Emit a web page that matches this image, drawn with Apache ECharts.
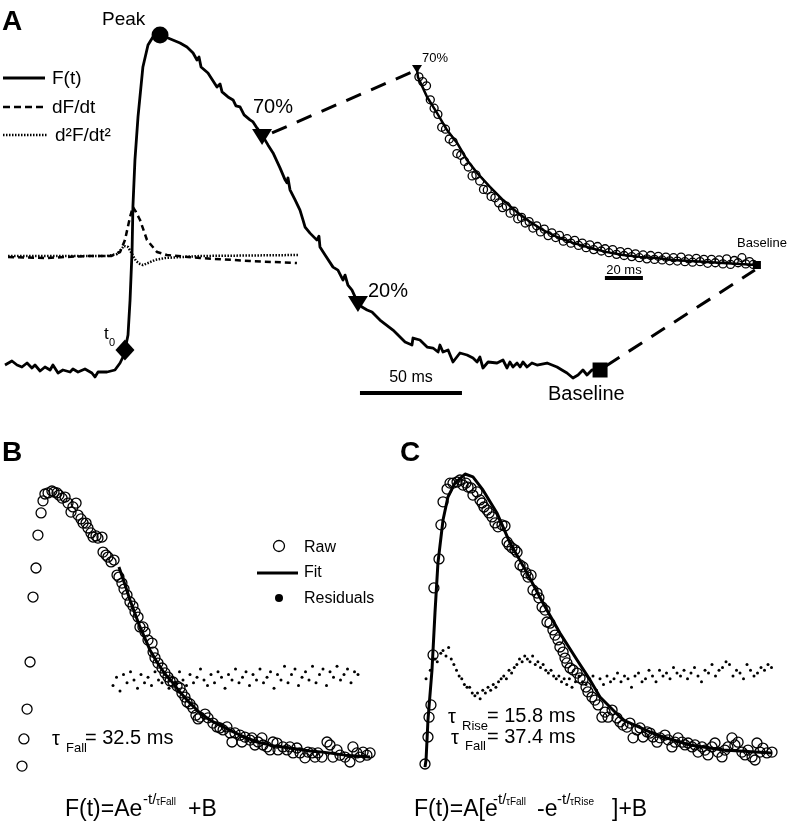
<!DOCTYPE html>
<html><head><meta charset="utf-8">
<script src="https://cdn.jsdelivr.net/npm/echarts@6/dist/echarts.min.js"></script>
<style>html,body{margin:0;padding:0;background:#fff}#c{width:794px;height:825px}</style>
</head><body><div id="c"></div>
<script>
// ---------- Panel A: main trace (time in ms, F normalised to peak) ----------
const mainT = [0,3.4,5.9,8.3,10.8,13.2,14.7,17.2,19.6,22.1,23.5,26.0,28.4,31.9,33.3,35.8,39.2,42.6,44.1,45.6,50.0,53.9,56.4,58.3,58.8,60.3,61.3,62.3,62.7,63.7,65.2,67.6,70.1,72.5,76.0,79.9,85.8,89.2,92.2,94.1,95.1,96.1,99.5,103.9,105.4,106.4,109.3,111.8,113.2,115.2,117.2,120.1,121.6,123.5,126.0,128.9,131.4,134.8,137.3,138.2,138.7,139.7,142.2,144.6,146.1,147.1,149.5,152.9,153.9,154.4,156.9,160.8,163.2,165.7,166.7,168.1,170.1,173.0,175.0,177.5,179.9,183.8,190.2,196.1,199.5,200.0,203.4,206.9,209.8,212.3,213.2,214.7,217.2,219.6,223.0,226.5,229.4,231.4,232.8,234.3,236.8,241.2,244.1,246.1,247.5,249.0,251.0,252.5,253.9,255.9,258.3,260.8,265.7,270.6,273.0,275.5,278.4,280.9,283.3,285.3,287.7,290.7];
const mainF = [0.009,0.021,0.009,0.003,0.015,0,0.009,-0.009,0.003,-0.006,0.009,-0.015,-0.006,-0.012,-0.003,-0.012,-0.003,-0.015,-0.027,-0.012,-0.012,-0.006,0.015,0.039,0.054,0.099,0.204,0.354,0.483,0.625,0.754,0.904,0.970,0.994,1.0,0.991,0.976,0.964,0.946,0.925,0.934,0.904,0.886,0.844,0.853,0.829,0.814,0.805,0.787,0.784,0.760,0.745,0.739,0.721,0.700,0.670,0.646,0.601,0.565,0.556,0.571,0.535,0.505,0.474,0.444,0.423,0.405,0.384,0.396,0.363,0.339,0.303,0.294,0.264,0.279,0.249,0.234,0.195,0.183,0.174,0.168,0.144,0.114,0.078,0.069,0.090,0.084,0.063,0.060,0.048,0.069,0.048,0.054,0.018,0.045,0.039,0.030,0.018,0.033,0,0.018,0.015,0.024,0,0.018,0.003,0.015,0.003,0.018,0.003,0.015,0.009,0.015,0.003,-0.006,-0.015,-0.030,-0.021,-0.006,-0.021,-0.006,-0.006];
// derivatives (arbitrary units, peak of dF/dt = 1)
const dfT = [1.5,20,40,52,56.4,58.8,61.3,62.7,64.2,66.2,69.6,74.5,79.4,95.6,120,143.1];
const dfV = [0,-0.02,0.02,0.02,0.1,0.34,0.8,1.0,0.9,0.74,0.34,0.1,0.04,-0.02,-0.08,-0.12];
const d2T = [1.5,25,50,55,58.3,60.3,62.3,64.2,66.2,67.6,70.1,73.5,78.4,95.6,143.6];
const d2V = [0.02,0.02,0.02,0.06,0.22,0.2,0.06,-0.08,-0.14,-0.16,-0.12,-0.06,-0.02,0.02,0.04];
// event markers [t, F]
const evT0 = [58.8,0.054], evPeak = [76,1.0], ev70 = [126,0.694], ev20 = [173,0.192], evBase = [291.7,-0.006];
// zoom connectors and scale bar (main axes)
const conn70 = [[130.9,0.706],[199.5,0.889]];
const connBase = [[294.6,0.006],[367.6,0.294]];
const bar50 = [[174,-0.075],[224,-0.075]];

// ---------- Panel A inset: 70% -> baseline ----------
const insetFit = [[0,0.7],[0.5,0.671],[5.3,0.6],[10.5,0.543],[15.8,0.482],[21.1,0.436],[26.3,0.375],[31.6,0.329],[38.4,0.279],[45.3,0.232],[52.6,0.189],[59.5,0.154],[66.3,0.125],[73.7,0.1],[82.1,0.079],[91.1,0.061],[100,0.046],[108.4,0.036],[117.4,0.029],[126.3,0.025],[134.7,0.018],[143.7,0.014],[152.6,0.011],[161.1,0.007],[170,0.004],[178.9,0]];
const insetRaw = [[1,0.672],[3,0.655],[5,0.640],[7,0.590],[9,0.560],[11,0.538],[13,0.492],[15,0.485],[17,0.450],[19,0.440],[21,0.398],[23,0.392],[25,0.370],[27,0.350],[29,0.318],[31,0.322],[33,0.300],[35,0.270],[37,0.268],[39,0.245],[41,0.240],[43,0.222],[45,0.205],[47,0.210],[49,0.185],[51,0.192],[53,0.165],[55,0.170],[57,0.150],[59,0.155],[61,0.132],[63,0.140],[65,0.118],[67,0.128],[69,0.105],[71,0.115],[73,0.098],[75,0.106],[77,0.085],[79,0.094],[81,0.078],[83,0.088],[85,0.070],[87,0.078],[89,0.062],[91,0.072],[93,0.055],[95,0.066],[97,0.050],[99,0.058],[101,0.044],[103,0.055],[105,0.038],[107,0.048],[109,0.034],[111,0.045],[113,0.030],[115,0.040],[117,0.026],[119,0.036],[121,0.022],[123,0.034],[125,0.020],[127,0.031],[129,0.018],[131,0.028],[133,0.015],[135,0.026],[137,0.014],[139,0.028],[141,0.012],[143,0.022],[145,0.010],[147,0.024],[149,0.012],[151,0.020],[153,0.006],[155,0.020],[157,0.008],[159,0.018],[161,0.004],[163,0.022],[165,0.002],[167,0.016],[169,0.008],[171,0.026],[173,0.004],[175,0.012],[177,0.002]];
const insetEv70 = [0,0.7], insetEvBase = [178.9,0];
const bar20 = [[98.9,-0.046],[118.9,-0.046]];

// ---------- Panel B: single exponential fit ----------
const bRaw = [[0,-0.004],[1.1,0.095],[2.9,0.204],[4.6,0.376],[6.3,0.613],[8.0,0.719],[9.1,0.839],[10.9,0.920],[12.0,0.964],[13.1,0.989],[14.9,0.993],[17.1,1.0],[18.3,0.996],[20.0,0.993],[21.1,0.985],[22.9,0.974],[24.6,0.978],[26.3,0.956],[28.0,0.923],[29.1,0.942],[30.9,0.956],[32.0,0.912],[33.7,0.898],[34.9,0.883],[36.6,0.883],[37.7,0.865],[39.4,0.847],[40.6,0.832],[42.3,0.836],[43.4,0.828],[45.7,0.832],[46.3,0.777],[48.0,0.766],[49.1,0.759],[50.9,0.741],[52.6,0.748],[54.3,0.693],[55.4,0.686],[57.1,0.664],[58.3,0.642],[60.0,0.620],[61.7,0.595],[63.4,0.580],[64.6,0.558],[66.3,0.540],[67.4,0.504],[69.1,0.504],[70.3,0.485],[72.0,0.456],[74.3,0.445],[74.9,0.412],[76.0,0.391],[77.7,0.372],[80.0,0.354],[81.7,0.336],[83.4,0.321],[84.6,0.307],[86.3,0.303],[88.6,0.288],[90.3,0.281],[91.4,0.263],[93.1,0.248],[94.3,0.230],[96.0,0.223],[97.7,0.208],[99.4,0.182],[100.6,0.168],[101.7,0.175],[104.6,0.186],[106.3,0.172],[109.1,0.153],[111.4,0.139],[113.1,0.135],[114.9,0.128],[117.1,0.139],[118.9,0.117],[120.0,0.084],[121.7,0.117],[124.6,0.109],[125.7,0.084],[127.4,0.102],[130.3,0.091],[131.4,0.099],[133.1,0.073],[134.9,0.084],[137.1,0.099],[137.7,0.073],[140.0,0.066],[141.7,0.055],[143.4,0.084],[145.7,0.080],[146.3,0.055],[149.1,0.066],[151.4,0.055],[153.1,0.066],[154.9,0.044],[157.1,0.062],[158.9,0.044],[161.7,0.026],[163.4,0.047],[165.7,0.044],[167.4,0.029],[169.1,0.044],[171.4,0.029],[174.3,0.084],[176.0,0.073],[177.7,0.029],[180.0,0.055],[181.7,0.036],[184.6,0.029],[187.4,0.011],[189.1,0.066],[191.4,0.044],[193.1,0.029],[194.9,0.047],[197.1,0.036],[198.9,0.044]];
const bFit = [[55.4,0.723],[58.9,0.657],[61.7,0.602],[67.4,0.504],[73.1,0.420],[77.1,0.376],[81.7,0.332],[86.3,0.299],[90.3,0.266],[94.3,0.237],[101.7,0.190],[107.4,0.164],[114.9,0.139],[124.6,0.109],[134.3,0.084],[144.6,0.069],[153.1,0.062],[164.6,0.051],[172.0,0.047],[184.6,0.036],[198.9,0.029]];
const bRes = [[52,0.29],[54,0.32],[56,0.27],[58,0.33],[60,0.30],[62,0.34],[64,0.31],[66,0.28],[68,0.33],[70,0.30],[72,0.32],[74,0.29],[76,0.34],[78,0.31],[80,0.30],[82,0.33],[84,0.28],[86,0.32],[88,0.30],[90,0.34],[92,0.31],[94,0.29],[96,0.33],[98,0.30],[100,0.32],[102,0.35],[104,0.31],[106,0.29],[108,0.33],[110,0.30],[112,0.34],[114,0.32],[116,0.28],[118,0.33],[120,0.31],[122,0.35],[124,0.30],[126,0.32],[128,0.34],[130,0.29],[132,0.33],[134,0.31],[136,0.35],[138,0.30],[140,0.32],[142,0.34],[144,0.28],[146,0.33],[148,0.31],[150,0.36],[152,0.30],[154,0.33],[156,0.35],[158,0.29],[160,0.32],[162,0.34],[164,0.31],[166,0.36],[168,0.30],[170,0.33],[172,0.35],[174,0.29],[176,0.34],[178,0.32],[180,0.36],[182,0.31],[184,0.33],[186,0.35],[188,0.30],[190,0.34],[192,0.33]];

// ---------- Panel C: rise + fall fit ----------
const cRaw = [[0,0],[1.7,0.095],[2.3,0.165],[3.4,0.208],[4.6,0.384],[5.1,0.620],[8.0,0.722],[9.1,0.842],[10.3,0.923],[12.6,0.968],[14.3,0.989],[16.0,0.989],[18.3,0.993],[20.0,1.0],[21.7,0.982],[23.4,0.989],[24.6,0.975],[26.3,0.972],[27.4,0.947],[29.7,0.958],[31.4,0.930],[32.6,0.919],[33.7,0.905],[35.4,0.894],[36.6,0.884],[38.3,0.870],[40.0,0.849],[41.7,0.835],[44.0,0.842],[45.7,0.838],[46.9,0.782],[48.0,0.771],[49.7,0.761],[51.4,0.754],[52.6,0.746],[54.3,0.701],[56.0,0.694],[57.7,0.673],[58.9,0.658],[60.6,0.665],[61.7,0.613],[64.0,0.602],[65.1,0.585],[66.9,0.553],[68.6,0.542],[69.7,0.500],[71.4,0.496],[73.1,0.472],[74.3,0.454],[76.0,0.437],[77.1,0.412],[78.9,0.394],[80.0,0.373],[81.1,0.356],[82.9,0.338],[84.6,0.331],[86.9,0.320],[88.6,0.303],[90.3,0.296],[92.0,0.271],[93.1,0.254],[95.4,0.236],[97.1,0.225],[98.9,0.208],[101.1,0.165],[102.9,0.183],[104.6,0.165],[106.9,0.190],[109.7,0.162],[111.4,0.148],[113.1,0.137],[115.4,0.130],[117.1,0.144],[118.9,0.092],[121.1,0.120],[122.9,0.127],[124.6,0.095],[126.9,0.113],[128.6,0.109],[130.3,0.095],[132.6,0.077],[134.3,0.092],[137.1,0.102],[138.9,0.085],[141.1,0.060],[142.9,0.077],[144.6,0.092],[146.9,0.077],[148.6,0.067],[150.3,0.074],[152.6,0.060],[154.3,0.067],[156.0,0.042],[158.3,0.060],[160.0,0.049],[161.7,0.032],[164.0,0.060],[165.7,0.074],[167.4,0.042],[169.7,0.025],[171.4,0.049],[173.1,0.060],[175.4,0.092],[177.1,0.067],[178.9,0.077],[181.1,0.042],[182.9,0.032],[184.6,0.049],[186.9,0.025],[188.6,0.014],[189.7,0.074],[191.4,0.042],[193.1,0.056],[195.4,0.039],[198.3,0.042]];
const cFit = [[0,-0.011],[0.6,0.014],[1.7,0.155],[4.0,0.331],[5.7,0.532],[7.4,0.708],[10.3,0.859],[13.1,0.940],[17.1,0.989],[22.9,1.021],[27.4,1.011],[33.1,0.965],[41.1,0.884],[48.6,0.778],[58.3,0.673],[67.4,0.567],[77.1,0.461],[86.9,0.366],[94.3,0.296],[100,0.236],[113.1,0.155],[132.6,0.102],[151.4,0.067],[170.3,0.049],[198.3,0.039]];
const cRes = [[0.6,0.30],[3,0.33],[5.7,0.37],[7,0.36],[9,0.39],[10.3,0.40],[12,0.38],[13.5,0.41],[15,0.37],[16.5,0.35],[18,0.33],[19.5,0.31],[21,0.30],[22.5,0.28],[24,0.27],[25.5,0.27],[27,0.25],[28.5,0.24],[30,0.25],[31.5,0.23],[33,0.26],[34.5,0.25],[36,0.27],[37.5,0.26],[39,0.28],[40.5,0.27],[42,0.29],[43.5,0.30],[45,0.31],[46.5,0.30],[48,0.33],[49.5,0.32],[51,0.34],[52.5,0.35],[54,0.37],[55.5,0.36],[57,0.38],[58.5,0.37],[60,0.36],[61.5,0.38],[63,0.35],[64.5,0.36],[66,0.34],[67.5,0.35],[69,0.33],[70.5,0.32],[72,0.33],[73.5,0.31],[75,0.30],[76.5,0.31],[78,0.29],[79.5,0.30],[81,0.28],[82.5,0.30],[84,0.27],[86,0.29],[88,0.31],[90,0.29],[92,0.28],[94,0.30],[96,0.31],[98,0.26],[100,0.30],[102,0.28],[104,0.31],[106,0.29],[108,0.30],[110,0.32],[112,0.29],[114,0.31],[116,0.30],[118,0.27],[120,0.31],[122,0.32],[124,0.29],[126,0.30],[128,0.33],[130,0.31],[132,0.29],[134,0.33],[136,0.31],[138,0.32],[140,0.30],[142,0.34],[144,0.32],[146,0.31],[148,0.33],[150,0.30],[152,0.32],[154,0.34],[156,0.31],[158,0.29],[160,0.33],[162,0.32],[164,0.35],[166,0.31],[168,0.33],[170,0.34],[172,0.36],[174,0.35],[176,0.31],[178,0.33],[180,0.32],[182,0.30],[184,0.35],[186,0.33],[188,0.31],[190,0.32],[192,0.34],[194,0.33],[196,0.35],[198,0.34]];

// ---------- build ----------
const FONT = '"Liberation Sans", Arial, Helvetica, sans-serif';
const K = '#000';
const zip = (a, b) => a.map((v, i) => [v, b[i]]);
function txt(x, y, text, size, o) {
  o = o || {};
  return { type: 'text', x: x, y: y, z: 100, style: {
    text: text, font: (o.bold ? 'bold ' : '') + size + 'px ' + FONT, fill: K,
    align: o.align || 'left', textAlign: o.align || 'left',
    verticalAlign: 'middle', textVerticalAlign: 'middle' } };
}
function gline(x1, y1, x2, y2, w, dash) {
  return { type: 'line', z: 100, shape: { x1, y1, x2, y2 }, style: { stroke: K, lineWidth: w, lineDash: dash || null } };
}
const hid = { show: false };
function xa(grid, min, max) { return { type: 'value', gridIndex: grid, min, max, show: false, splitLine: hid }; }
function ya(grid, min, max) { return { type: 'value', gridIndex: grid, min, max, show: false, splitLine: hid }; }
function lineS(xi, yi, data, w, dash, z) {
  return { type: 'line', xAxisIndex: xi, yAxisIndex: yi, data, symbol: 'none', smooth: false, clip: false,
    lineStyle: { color: K, width: w, type: dash || 'solid', cap: 'butt', join: 'round' }, z: z || 2, silent: true };
}
function dotS(xi, yi, data, sym, size, filled, z, rot) {
  return { type: 'scatter', xAxisIndex: xi, yAxisIndex: yi, data, symbol: sym, symbolSize: size, symbolRotate: rot || 0, clip: false,
    itemStyle: filled ? { color: K, opacity: 1 } : { color: 'rgba(0,0,0,0)', borderColor: K, borderWidth: 1.3, opacity: 1 },
    z: z || 3, silent: true };
}

const option = {
  animation: false, backgroundColor: '#fff',
  grid: [
    { left: 5, top: 1.7, width: 785.4, height: 432.9 },
    { left: 398, top: 41, width: 380, height: 252 },
    { left: 4.5, top: 463.6, width: 376.25, height: 328.8 },
    { left: 407.5, top: 451.6, width: 376.25, height: 340.8 }
  ],
  xAxis: [xa(0, 0, 385), xa(1, -10, 190), xa(2, -10, 205), xa(3, -10, 205)],
  yAxis: [ya(0, -0.2, 1.1), ya(0, -3.552, 5.106), ya(1, -0.1, 0.8), ya(2, -0.1, 1.1), ya(3, -0.1, 1.1)],
  series: [
    // Panel A
    lineS(0, 1, zip(dfT, dfV), 2.5, [6, 4], 2),
    lineS(0, 1, zip(d2T, d2V), 2.5, [1.5, 1.5], 2),
    lineS(0, 0, zip(mainT, mainF), 2.8, null, 3),
    lineS(0, 0, conn70, 3, [16, 11], 2),
    lineS(0, 0, connBase, 3, [16, 11], 2),
    lineS(0, 0, bar50, 4, null, 2),
    dotS(0, 0, [evT0], 'diamond', [19, 21], true, 5),
    dotS(0, 0, [evPeak], 'circle', 17, true, 5),
    dotS(0, 0, [ev70, ev20], 'triangle', [20, 16], true, 5, 180),
    dotS(0, 0, [evBase], 'rect', 15, true, 5),
    // inset
    lineS(1, 2, insetFit, 2.5, null, 3),
    dotS(1, 2, insetRaw, 'circle', 8, false, 4),
    dotS(1, 2, [insetEv70], 'triangle', [10, 8], true, 5, 180),
    dotS(1, 2, [insetEvBase], 'rect', 8, true, 5),
    lineS(1, 2, bar20, 4, null, 2),
    // Panel B
    dotS(2, 3, bRaw, 'circle', 10, false, 4),
    lineS(2, 3, bFit, 3, null, 3),
    dotS(2, 3, bRes, 'circle', 3, true, 3),
    // Panel C
    dotS(3, 4, cRaw, 'circle', 10, false, 4),
    lineS(3, 4, cFit, 3, null, 3),
    dotS(3, 4, cRes, 'circle', 3, true, 3)
  ],
  graphic: [
    // Panel A labels
    txt(2, 22, 'A', 28, { bold: true }),
    txt(102, 20, 'Peak', 19),
    gline(3, 78, 45, 78, 3),
    txt(52, 79, 'F(t)', 19),
    gline(3, 107, 45, 107, 2.5, [7, 4]),
    txt(52, 108, 'dF/dt', 19),
    gline(3, 135, 48, 135, 2.5, [1.5, 1.5]),
    txt(55, 136, 'd\u00B2F/dt\u00B2', 19),
    txt(253, 107, '70%', 20),
    txt(368, 291, '20%', 20),
    txt(104, 334, 't', 17),
    txt(109, 343, '0', 11),
    txt(411, 378, '50 ms', 16, { align: 'center' }),
    txt(548, 394, 'Baseline', 20),
    txt(422, 58, '70%', 13),
    txt(737, 243, 'Baseline', 13),
    txt(624, 270, '20 ms', 13, { align: 'center' }),
    // Panel B
    txt(2, 453, 'B', 28, { bold: true }),
    { type: 'circle', z: 100, shape: { cx: 279, cy: 546, r: 5.5 }, style: { fill: 'none', stroke: K, lineWidth: 1.3 } },
    txt(304, 548, 'Raw', 16),
    gline(257, 573, 298, 573, 3),
    txt(304, 573, 'Fit', 16),
    { type: 'circle', z: 100, shape: { cx: 279, cy: 598, r: 4 }, style: { fill: K } },
    txt(304, 599, 'Residuals', 16),
    txt(52, 739, '\u03C4', 20),
    txt(66, 748, 'Fall', 13),
    txt(85, 738, '= 32.5 ms', 20),
    txt(65, 810, 'F(t)=Ae', 23),
    txt(143, 800, '-t/', 15),
    txt(156, 802, '\u03C4Fall', 10),
    txt(188, 810, '+B', 23),
    // Panel C
    txt(400, 453, 'C', 28, { bold: true }),
    txt(448, 717, '\u03C4', 20),
    txt(462, 726, 'Rise', 13),
    txt(487, 716, '= 15.8 ms', 20),
    txt(451, 738, '\u03C4', 20),
    txt(465, 746, 'Fall', 13),
    txt(487, 737, '= 37.4 ms', 20),
    txt(414, 810, 'F(t)=A[e', 23),
    txt(493, 800, '-t/', 15),
    txt(506, 802, '\u03C4Fall', 10),
    txt(537, 810, '-e', 23),
    txt(557, 800, '-t/', 15),
    txt(570, 802, '\u03C4Rise', 10),
    txt(612, 810, ']+B', 23)
  ]
};
echarts.init(document.getElementById('c'), null, { renderer: 'canvas' }).setOption(option);
</script></body></html>
